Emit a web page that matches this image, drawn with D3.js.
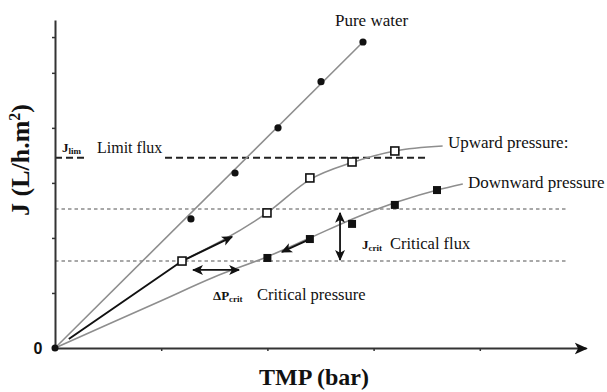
<!DOCTYPE html>
<html>
<head>
<meta charset="utf-8">
<script src="https://cdn.jsdelivr.net/npm/d3@7"></script>
<style>
  html, body { margin: 0; padding: 0; background: #fff; }
  svg { display: block; }
  .serif { font-family: "Liberation Serif", "Times New Roman", serif; fill: #111; }
</style>
</head>
<body>
<svg id="chart" width="607" height="392"></svg>
<script>
// Axis ticks (no numeric labels except the origin)
const tmpTicks = [1, 2, 3, 4];
const fluxTicks = [1, 2, 3, 4, 5, 5.65];

// Pure water flux (filled circles)
const pureTMP = [1.28, 1.695, 2.10, 2.505, 2.90];
const pureJ   = [2.345, 3.18, 4.0, 4.84, 5.56];

// Upward pressure steps (open squares) and its fitted curve
const upTMP = [1.196, 1.996, 2.40, 2.797, 3.20];
const upJ   = [1.58, 2.455, 3.09, 3.38, 3.58];
const upCurveTMP = [1.196, 1.996, 2.40, 2.797, 3.20, 3.65];
const upCurveJ   = [1.58, 2.455, 3.06, 3.37, 3.58, 3.67];

// Downward pressure steps (filled squares) and its fitted curve
const downTMP = [2.0, 2.40, 2.797, 3.20, 3.597];
const downJ   = [1.636, 1.98, 2.255, 2.60, 2.87];
const downCurveTMP = [0, 1.0, 1.5, 2.0, 2.4, 2.87, 3.25, 3.6, 3.84];
const downCurveJ   = [0, 0.86, 1.29, 1.66, 2.0, 2.4, 2.67, 2.87, 2.98];

// Reference levels
const limitFlux = 3.455;
const criticalFluxLevels = [1.58, 2.527];

// Annotation arrows, in data units
const riseArrow = { tmp: [0.13, 1.196, 1.667], j: [0.164, 1.58, 2.02] };
const fallArrow = { tmp: [2.40, 2.137], j: [1.98, 1.745] };
const deltaPArrow = { tmp: [1.30, 1.733], j: [1.418, 1.418] };
const jCritArrow = { tmp: [2.684, 2.684], j: [2.455, 1.60] };

const svg = d3.select("#chart");
const x = d3.scaleLinear().domain([0, 5]).range([55, 586]);
const y = d3.scaleLinear().domain([0, 5.96]).range([348, 20]);

const zip = (a, b) => a.map((v, i) => [v, b[i]]);
const line = d3.line().x(d => x(d[0])).y(d => y(d[1]));
const smooth = d3.line().x(d => x(d[0])).y(d => y(d[1])).curve(d3.curveMonotoneX);

// Arrowhead markers
const defs = svg.append("defs");
function marker(id, size) {
  defs.append("marker")
    .attr("id", id)
    .attr("viewBox", "0 -5 10 10")
    .attr("refX", 9).attr("refY", 0)
    .attr("markerUnits", "userSpaceOnUse")
    .attr("markerWidth", size).attr("markerHeight", size)
    .attr("orient", "auto-start-reverse")
    .append("path")
    .attr("d", "M0,-4.5L10,0L0,4.5L2.5,0Z")
    .attr("fill", "#111");
}
marker("head", 11);
marker("axisHead", 13);

// Critical flux levels (dotted)
svg.append("g").selectAll("line").data(criticalFluxLevels).join("line")
  .attr("x1", x(0)).attr("x2", x(4.82))
  .attr("y1", d => y(d)).attr("y2", d => y(d))
  .attr("stroke", "#a8a8a8").attr("stroke-width", 2)
  .attr("stroke-dasharray", "3.5,3");

// Limit flux (dashed), interrupted by its label
[[0, 0.28], [1.036, 3.51]].forEach(seg => {
  svg.append("line")
    .attr("x1", x(seg[0])).attr("x2", x(seg[1]))
    .attr("y1", y(limitFlux)).attr("y2", y(limitFlux))
    .attr("stroke", "#222").attr("stroke-width", 2)
    .attr("stroke-dasharray", "7,4");
});

// Curves
svg.append("path").attr("d", line([[0, 0], [pureTMP[4], pureJ[4]]]))
  .attr("fill", "none").attr("stroke", "#8e8e8e").attr("stroke-width", 1.6);
svg.append("path").attr("d", smooth(zip(upCurveTMP, upCurveJ)))
  .attr("fill", "none").attr("stroke", "#8e8e8e").attr("stroke-width", 1.6);
svg.append("path").attr("d", smooth(zip(downCurveTMP, downCurveJ)))
  .attr("fill", "none").attr("stroke", "#8e8e8e").attr("stroke-width", 1.6);

// Axes
const xAxis = svg.append("g").attr("transform", `translate(0,${y(0)})`)
  .call(d3.axisBottom(x).tickValues(tmpTicks).tickSize(3).tickSizeOuter(0).tickFormat(""));
const yAxis = svg.append("g").attr("transform", `translate(${x(0)},0)`)
  .call(d3.axisLeft(y).tickValues(fluxTicks).tickSize(3).tickSizeOuter(0).tickFormat(""));
[xAxis, yAxis].forEach(g => {
  g.select(".domain").attr("stroke", "#333").attr("stroke-width", 2);
  g.selectAll(".tick line").attr("stroke", "#333").attr("stroke-width", 1.5);
});
xAxis.select(".domain").attr("marker-end", "url(#axisHead)");

// Annotation arrows
svg.append("path").attr("d", line(zip(riseArrow.tmp, riseArrow.j)))
  .attr("fill", "none").attr("stroke", "#111").attr("stroke-width", 2)
  .attr("marker-end", "url(#head)");
svg.append("path").attr("d", line(zip(fallArrow.tmp, fallArrow.j)))
  .attr("fill", "none").attr("stroke", "#111").attr("stroke-width", 2)
  .attr("marker-end", "url(#head)");
[deltaPArrow, jCritArrow].forEach(a => {
  svg.append("path").attr("d", line(zip(a.tmp, a.j)))
    .attr("fill", "none").attr("stroke", "#111").attr("stroke-width", 1.8)
    .attr("marker-start", "url(#head)").attr("marker-end", "url(#head)");
});

// Markers
svg.append("g").selectAll("circle").data(zip(pureTMP, pureJ)).join("circle")
  .attr("cx", d => x(d[0])).attr("cy", d => y(d[1])).attr("r", 3.6).attr("fill", "#111");
svg.append("g").selectAll("rect").data(zip(upTMP, upJ)).join("rect")
  .attr("x", d => x(d[0]) - 4).attr("y", d => y(d[1]) - 4)
  .attr("width", 8).attr("height", 8)
  .attr("fill", "#fff").attr("stroke", "#111").attr("stroke-width", 1.6);
svg.append("g").selectAll("rect").data(zip(downTMP, downJ)).join("rect")
  .attr("x", d => x(d[0]) - 4).attr("y", d => y(d[1]) - 4)
  .attr("width", 8).attr("height", 8).attr("fill", "#111");
svg.append("circle").attr("cx", x(0)).attr("cy", y(0)).attr("r", 3.5).attr("fill", "#111");

// Series labels
const label = (txt, px, py, size) => svg.append("text").attr("class", "serif")
  .attr("x", px).attr("y", py).attr("font-size", size).text(txt);
label("Pure water", 335, 26, 17);
label("Upward pressure:", 448, 148, 17);
label("Downward pressure", 468, 188, 17);
label("Limit flux", 97, 153, 16);
label("Critical flux", 390, 249, 16.5);
label("Critical pressure", 257, 300, 16.5);

// Symbol labels with subscripts
function symbol(main, sub, px, py) {
  const t = svg.append("text").attr("class", "serif")
    .attr("x", px).attr("y", py).attr("font-weight", "bold").attr("font-size", 13);
  t.append("tspan").text(main);
  t.append("tspan").attr("font-size", 9).attr("dy", 2).text(sub);
}
symbol("J", "lim", 62, 152);
symbol("J", "crit", 362, 249);
symbol("ΔP", "crit", 213, 300);

// Origin label
svg.append("text").attr("x", 38).attr("y", y(0) + 6)
  .attr("text-anchor", "middle")
  .attr("font-family", "Liberation Sans, Arial, sans-serif")
  .attr("font-weight", "bold").attr("font-size", 16).attr("fill", "#111").text("0");

// Axis titles
svg.append("text").attr("class", "serif")
  .attr("x", 314).attr("y", 385).attr("text-anchor", "middle")
  .attr("font-weight", "bold").attr("font-size", 24).text("TMP (bar)");
const yt = svg.append("text").attr("class", "serif")
  .attr("transform", "translate(29,160) rotate(-90)").attr("text-anchor", "middle")
  .attr("font-weight", "bold").attr("font-size", 26);
yt.append("tspan").text("J (L/h.m");
yt.append("tspan").attr("font-size", 16).attr("dy", -9).text("2");
yt.append("tspan").attr("dy", 9).text(")");
</script>
</body>
</html>
